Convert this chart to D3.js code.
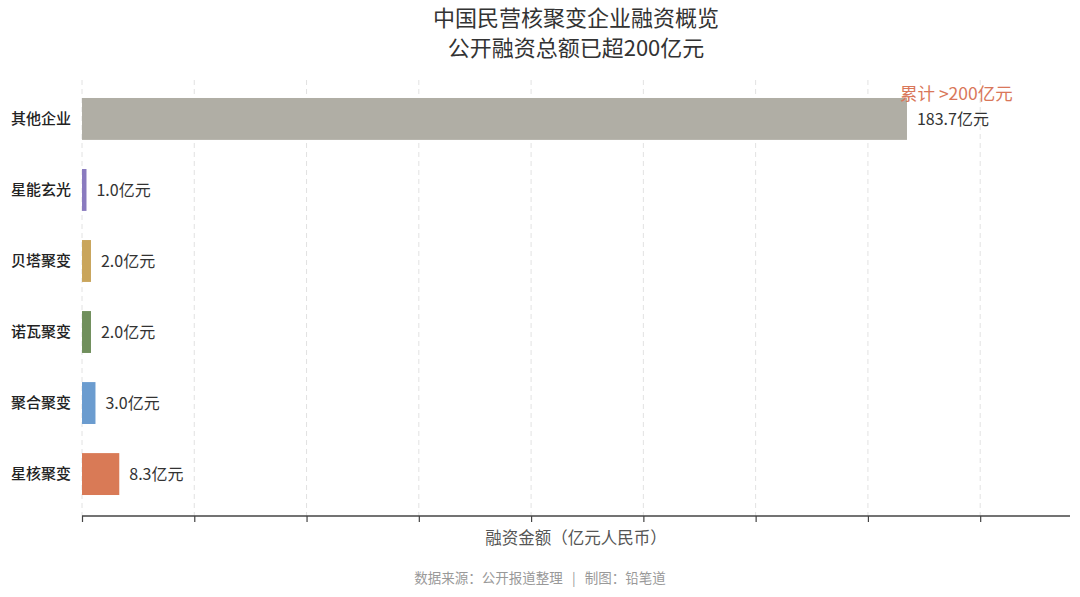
<!DOCTYPE html>
<html><head><meta charset="utf-8">
<script src="https://cdn.jsdelivr.net/npm/d3@7/dist/d3.min.js"></script>
<style>body{margin:0;background:#fff;}svg{display:block;font-family:"Noto Sans CJK SC","Noto Sans",sans-serif;}</style>
</head><body>
<svg id="c" width="1080" height="597"></svg>
<script>
const categories = ["其他企业","星能玄光","贝塔聚变","诺瓦聚变","聚合聚变","星核聚变"];
const values = [183.7, 1.0, 2.0, 2.0, 3.0, 8.3];
const colors = ["#b0aea5","#8a7bbf","#c9a55c","#708f5c","#6b9ccf","#d97a56"];
const xTicks = [0,25,50,75,100,125,150,175,200];

const svg = d3.select("#c");
const m = {l:82, r:1070, t:83, b:516};
const x = d3.scaleLinear().domain([0,220]).range([m.l, m.r]);
const y = d3.scaleBand().domain(categories).range([83, 510]).paddingInner(0.41).paddingOuter(0.211);

// grid
svg.append("g").selectAll("line").data(xTicks).join("line")
  .attr("x1", d=>x(d)).attr("x2", d=>x(d)).attr("y1", 80).attr("y2", m.b)
  .attr("stroke", "#e2e2e2").attr("stroke-dasharray", "5,4").attr("stroke-width", 1);

// bars
svg.append("g").selectAll("rect").data(values).join("rect")
  .attr("x", x(0)).attr("y", (d,i)=>y(categories[i]))
  .attr("width", d=>x(d)-x(0)).attr("height", y.bandwidth())
  .attr("fill", (d,i)=>colors[i]);

// value labels
svg.append("g").selectAll("text").data(values).join("text")
  .attr("x", d=>x(d)+10).attr("y", (d,i)=>y(categories[i])+y.bandwidth()/2)
  .attr("dy", "0.35em").attr("font-size", 16).attr("fill", "#333")
  .text(d=>d.toFixed(1)+"亿元");

// annotation
svg.append("text").attr("x", x(values[0])-7).attr("y", 94).attr("dy","0.35em")
  .attr("font-size", 17.5).attr("fill", "#d9775a").text("累计 >200亿元");

// y labels
svg.append("g").selectAll("text").data(categories).join("text")
  .attr("x", 71).attr("y", d=>y(d)+y.bandwidth()/2).attr("dy","0.35em")
  .attr("text-anchor","end").attr("font-size", 15).attr("fill", "#222").attr("font-weight", 500)
  .text(d=>d);

// x axis
const ax = svg.append("g").attr("transform", `translate(0,${m.b})`)
  .call(d3.axisBottom(x).tickValues(xTicks).tickSize(6).tickFormat(""));
ax.select(".domain").attr("stroke", "#444").attr("stroke-width", 1.5).attr("d", `M${m.l},0H${m.r}`);
ax.selectAll(".tick line").attr("stroke", "#444").attr("stroke-width", 1.2);

svg.append("text").attr("x", (m.l+m.r)/2).attr("y", 538).attr("dy","0.35em")
  .attr("text-anchor","middle").attr("font-size", 16.5).attr("fill", "#555").text("融资金额（亿元人民币）");

// title
svg.append("text").attr("x", 576).attr("y", 18).attr("dy","0.35em").attr("text-anchor","middle")
  .attr("font-size", 22).attr("fill", "#333").text("中国民营核聚变企业融资概览");
svg.append("text").attr("x", 576).attr("y", 48).attr("dy","0.35em").attr("text-anchor","middle")
  .attr("font-size", 22).attr("fill", "#333").text("公开融资总额已超200亿元");

// footer
svg.append("text").attr("x", 540).attr("y", 578).attr("dy","0.35em").attr("text-anchor","middle")
  .style("white-space","pre")
  .attr("font-size", 13.5).attr("fill", "#999").text("数据来源：公开报道整理   |   制图：铅笔道");
</script>
</body></html>
